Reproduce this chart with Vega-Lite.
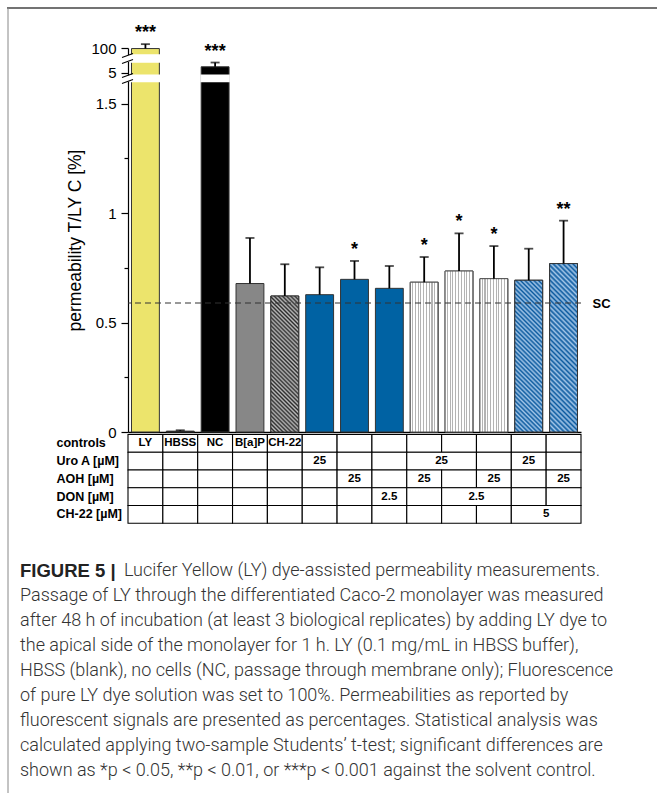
{
 "$schema": "https://vega.github.io/schema/vega-lite/v6.json",
 "width": 453, "height": 384,
 "autosize": {"type": "none"},
 "padding": {"left": 128, "top": 48, "right": 76, "bottom": 361},
 "background": "white",
 "config": {"view": {"stroke": null}, "axis": {"grid": false}, "font": "Liberation Sans"},
 "datasets": {
  "bars": [
   {"id":"LY","v":99.2,"e":105.5,"sig":"***"},
   {"id":"HBSS","v":0.004,"e":0.008,"sig":""},
   {"id":"NC","v":6.1,"e":6.9,"sig":"***"},
   {"id":"BaP","v":0.678,"e":0.886,"sig":""},
   {"id":"CH22","v":0.621,"e":0.766,"sig":""},
   {"id":"U","v":0.627,"e":0.752,"sig":""},
   {"id":"A","v":0.697,"e":0.781,"sig":"*"},
   {"id":"D","v":0.656,"e":0.758,"sig":""},
   {"id":"UA","v":0.684,"e":0.799,"sig":"*"},
   {"id":"UD","v":0.735,"e":0.907,"sig":"*"},
   {"id":"AD","v":0.700,"e":0.849,"sig":"*"},
   {"id":"UC","v":0.693,"e":0.837,"sig":""},
   {"id":"AC","v":0.769,"e":0.965,"sig":"**"}
  ],
  "gaps": [
   {"id":"LY","lo":1.6,"hi":4.5},
   {"id":"LY","lo":7,"hi":90},
   {"id":"NC","lo":1.6,"hi":4.5}
  ],
  "slashes": [
   {"ya":1.591,"yb":2.567},
   {"ya":3.487,"yb":4.838},
   {"ya":6.718,"yb":36.64},
   {"ya":60.36,"yb":92.14}
  ],
  "cells": [
   {"r":"controls","a":0,"b":1,"t":"LY"},{"r":"controls","a":1,"b":2,"t":"HBSS"},{"r":"controls","a":2,"b":3,"t":"NC"},{"r":"controls","a":3,"b":4,"t":"B[a]P"},{"r":"controls","a":4,"b":5,"t":"CH-22"},
   {"r":"controls","a":5,"b":6,"t":""},{"r":"controls","a":6,"b":7,"t":""},{"r":"controls","a":7,"b":8,"t":""},{"r":"controls","a":8,"b":9,"t":""},{"r":"controls","a":9,"b":10,"t":""},{"r":"controls","a":10,"b":11,"t":""},{"r":"controls","a":11,"b":12,"t":""},{"r":"controls","a":12,"b":13,"t":""},
   {"r":"Uro A [µM]","a":0,"b":1,"t":""},{"r":"Uro A [µM]","a":1,"b":2,"t":""},{"r":"Uro A [µM]","a":2,"b":3,"t":""},{"r":"Uro A [µM]","a":3,"b":4,"t":""},{"r":"Uro A [µM]","a":4,"b":5,"t":""},
   {"r":"Uro A [µM]","a":5,"b":6,"t":"25"},{"r":"Uro A [µM]","a":6,"b":7,"t":""},{"r":"Uro A [µM]","a":7,"b":8,"t":""},{"r":"Uro A [µM]","a":8,"b":10,"t":"25"},{"r":"Uro A [µM]","a":10,"b":11,"t":""},{"r":"Uro A [µM]","a":11,"b":12,"t":"25"},{"r":"Uro A [µM]","a":12,"b":13,"t":""},
   {"r":"AOH [µM]","a":0,"b":1,"t":""},{"r":"AOH [µM]","a":1,"b":2,"t":""},{"r":"AOH [µM]","a":2,"b":3,"t":""},{"r":"AOH [µM]","a":3,"b":4,"t":""},{"r":"AOH [µM]","a":4,"b":5,"t":""},{"r":"AOH [µM]","a":5,"b":6,"t":""},
   {"r":"AOH [µM]","a":6,"b":7,"t":"25"},{"r":"AOH [µM]","a":7,"b":8,"t":""},{"r":"AOH [µM]","a":8,"b":9,"t":"25"},{"r":"AOH [µM]","a":9,"b":10,"t":""},{"r":"AOH [µM]","a":10,"b":11,"t":"25"},{"r":"AOH [µM]","a":11,"b":12,"t":""},{"r":"AOH [µM]","a":12,"b":13,"t":"25"},
   {"r":"DON [µM]","a":0,"b":1,"t":""},{"r":"DON [µM]","a":1,"b":2,"t":""},{"r":"DON [µM]","a":2,"b":3,"t":""},{"r":"DON [µM]","a":3,"b":4,"t":""},{"r":"DON [µM]","a":4,"b":5,"t":""},{"r":"DON [µM]","a":5,"b":6,"t":""},{"r":"DON [µM]","a":6,"b":7,"t":""},
   {"r":"DON [µM]","a":7,"b":8,"t":"2.5"},{"r":"DON [µM]","a":8,"b":9,"t":""},{"r":"DON [µM]","a":9,"b":11,"t":"2.5"},{"r":"DON [µM]","a":11,"b":12,"t":""},{"r":"DON [µM]","a":12,"b":13,"t":""},
   {"r":"CH-22 [µM]","a":0,"b":1,"t":""},{"r":"CH-22 [µM]","a":1,"b":2,"t":""},{"r":"CH-22 [µM]","a":2,"b":3,"t":""},{"r":"CH-22 [µM]","a":3,"b":4,"t":""},{"r":"CH-22 [µM]","a":4,"b":5,"t":""},{"r":"CH-22 [µM]","a":5,"b":6,"t":""},
   {"r":"CH-22 [µM]","a":6,"b":7,"t":""},{"r":"CH-22 [µM]","a":7,"b":8,"t":""},{"r":"CH-22 [µM]","a":8,"b":9,"t":""},{"r":"CH-22 [µM]","a":9,"b":10,"t":""},{"r":"CH-22 [µM]","a":10,"b":11,"t":""},{"r":"CH-22 [µM]","a":11,"b":13,"t":"5"}
  ],
  "caption": [
   {"line":1,"text":"Lucifer Yellow (LY) dye-assisted permeability measurements."},
   {"line":2,"text":"Passage of LY through the differentiated Caco-2 monolayer was measured"},
   {"line":3,"text":"after 48 h of incubation (at least 3 biological replicates) by adding LY dye to"},
   {"line":4,"text":"the apical side of the monolayer for 1 h. LY (0.1 mg/mL in HBSS buffer),"},
   {"line":5,"text":"HBSS (blank), no cells (NC, passage through membrane only); Fluorescence"},
   {"line":6,"text":"of pure LY dye solution was set to 100%. Permeabilities as reported by"},
   {"line":7,"text":"fluorescent signals are presented as percentages. Statistical analysis was"},
   {"line":8,"text":"calculated applying two-sample Students’ t-test; significant differences are"},
   {"line":9,"text":"shown as *p < 0.05, **p < 0.01, or ***p < 0.001 against the solvent control."}
  ]
 },
 "layer": [
  {
   "data": {"name": "bars"},
   "resolve": {"axis": {"y": "independent"}},
   "layer": [
    {
     "mark": {"type": "bar", "stroke": "#333", "strokeWidth": 1},
     "encoding": {
      "x": {"field": "id", "type": "nominal", "sort": null, "scale": {"domain": ["LY","HBSS","NC","BaP","CH22","U","A","D","UA","UD","AD","UC","AC"], "paddingInner": 0.2, "paddingOuter": 0.1}, "axis": {"labels": false, "ticks": false, "title": null, "domainColor": "#000", "domainWidth": 1.5}},
      "y": {"field": "v", "type": "quantitative", "stack": null, "scale": {"domain": [0,1.6,4.5,7,90,100], "range": [384,33.6,27.3,14,7,0], "nice": false, "zero": false},
       "axis": {"orient": "left", "values": [0,0.25,0.5,0.75,1,1.25,1.5,5,100],
        "labelExpr": "indexof([0.25,0.75,1.25], datum.value) >= 0 ? '' : format(datum.value, '~g')",
        "tickSize": {"condition": {"test": "indexof([0.25,0.75,1.25], datum.value) >= 0", "value": 4}, "value": 7},
        "title": "permeability T/LY C [%]", "labelFont": "Liberation Sans", "labelFontSize": 15, "labelColor": "#000", "labelPadding": 5,
        "tickColor": "#000", "tickWidth": 1.2, "domainColor": "#000", "domainWidth": 1.2, "labelOverlap": false,
        "titleFont": "Liberation Sans", "titleFontSize": 17.5, "titleFontWeight": "normal", "titleColor": "#000", "titlePadding": 6, "grid": false}},
      "color": {"field": "id", "type": "nominal", "legend": null, "scale": {"domain": ["LY","HBSS","NC","BaP","CH22","U","A","D","UA","UD","AD","UC","AC"], "range": ["#ece46c","#000000","#000000","#878787","#6a6a6a","#0062a3","#0062a3","#0062a3","#e4e4e4","#e4e4e4","#e4e4e4","#4a86c2","#4a86c2"]}}
     }
    },
    {
     "transform": [{"filter": "indexof(['UA','UD','AD'], datum.id) >= 0"}],
     "mark": {"type": "bar", "stroke": "#555", "strokeWidth": 1, "fill": {"gradient": "linear", "x1": 0, "y1": 0, "x2": 1, "y2": 0, "stops": [
      {"offset":0,"color":"#fff"},{"offset":0.062,"color":"#fff"},{"offset":0.062,"color":"#b4b4b4"},{"offset":0.1,"color":"#b4b4b4"},
      {"offset":0.1,"color":"#fff"},{"offset":0.162,"color":"#fff"},{"offset":0.162,"color":"#b4b4b4"},{"offset":0.2,"color":"#b4b4b4"},
      {"offset":0.2,"color":"#fff"},{"offset":0.262,"color":"#fff"},{"offset":0.262,"color":"#b4b4b4"},{"offset":0.3,"color":"#b4b4b4"},
      {"offset":0.3,"color":"#fff"},{"offset":0.362,"color":"#fff"},{"offset":0.362,"color":"#b4b4b4"},{"offset":0.4,"color":"#b4b4b4"},
      {"offset":0.4,"color":"#fff"},{"offset":0.462,"color":"#fff"},{"offset":0.462,"color":"#b4b4b4"},{"offset":0.5,"color":"#b4b4b4"},
      {"offset":0.5,"color":"#fff"},{"offset":0.562,"color":"#fff"},{"offset":0.562,"color":"#b4b4b4"},{"offset":0.6,"color":"#b4b4b4"},
      {"offset":0.6,"color":"#fff"},{"offset":0.662,"color":"#fff"},{"offset":0.662,"color":"#b4b4b4"},{"offset":0.7,"color":"#b4b4b4"},
      {"offset":0.7,"color":"#fff"},{"offset":0.762,"color":"#fff"},{"offset":0.762,"color":"#b4b4b4"},{"offset":0.8,"color":"#b4b4b4"},
      {"offset":0.8,"color":"#fff"},{"offset":0.862,"color":"#fff"},{"offset":0.862,"color":"#b4b4b4"},{"offset":0.9,"color":"#b4b4b4"},
      {"offset":0.9,"color":"#fff"},{"offset":0.962,"color":"#fff"},{"offset":0.962,"color":"#b4b4b4"},{"offset":1,"color":"#b4b4b4"}]}},
     "encoding": {
      "x": {"field": "id", "type": "nominal", "sort": null, "scale": {"domain": ["LY","HBSS","NC","BaP","CH22","U","A","D","UA","UD","AD","UC","AC"], "paddingInner": 0.2, "paddingOuter": 0.1}},
      "y": {"field": "v", "type": "quantitative", "stack": null, "scale": {"domain": [0,1.6,4.5,7,90,100], "range": [384,33.6,27.3,14,7,0], "nice": false, "zero": false}, "axis": null}
     }
    },
    {
     "transform": [{"filter": "datum.id == 'CH22'"}],
     "mark": {"type": "bar", "stroke": "#333", "strokeWidth": 1, "fill": {"gradient": "linear", "x1": 0, "y1": 1, "x2": 0.2371, "y2": -0.1564, "stops": [
      {"offset":0,"color":"#2b2b2b"},{"offset":0.0125,"color":"#bdbdbd"},{"offset":0.025,"color":"#2b2b2b"},{"offset":0.0375,"color":"#bdbdbd"},{"offset":0.05,"color":"#2b2b2b"},{"offset":0.0625,"color":"#bdbdbd"},{"offset":0.075,"color":"#2b2b2b"},{"offset":0.0875,"color":"#bdbdbd"},
      {"offset":0.1,"color":"#2b2b2b"},{"offset":0.1125,"color":"#bdbdbd"},{"offset":0.125,"color":"#2b2b2b"},{"offset":0.1375,"color":"#bdbdbd"},{"offset":0.15,"color":"#2b2b2b"},{"offset":0.1625,"color":"#bdbdbd"},{"offset":0.175,"color":"#2b2b2b"},{"offset":0.1875,"color":"#bdbdbd"},
      {"offset":0.2,"color":"#2b2b2b"},{"offset":0.2125,"color":"#bdbdbd"},{"offset":0.225,"color":"#2b2b2b"},{"offset":0.2375,"color":"#bdbdbd"},{"offset":0.25,"color":"#2b2b2b"},{"offset":0.2625,"color":"#bdbdbd"},{"offset":0.275,"color":"#2b2b2b"},{"offset":0.2875,"color":"#bdbdbd"},
      {"offset":0.3,"color":"#2b2b2b"},{"offset":0.3125,"color":"#bdbdbd"},{"offset":0.325,"color":"#2b2b2b"},{"offset":0.3375,"color":"#bdbdbd"},{"offset":0.35,"color":"#2b2b2b"},{"offset":0.3625,"color":"#bdbdbd"},{"offset":0.375,"color":"#2b2b2b"},{"offset":0.3875,"color":"#bdbdbd"},
      {"offset":0.4,"color":"#2b2b2b"},{"offset":0.4125,"color":"#bdbdbd"},{"offset":0.425,"color":"#2b2b2b"},{"offset":0.4375,"color":"#bdbdbd"},{"offset":0.45,"color":"#2b2b2b"},{"offset":0.4625,"color":"#bdbdbd"},{"offset":0.475,"color":"#2b2b2b"},{"offset":0.4875,"color":"#bdbdbd"},
      {"offset":0.5,"color":"#2b2b2b"},{"offset":0.5125,"color":"#bdbdbd"},{"offset":0.525,"color":"#2b2b2b"},{"offset":0.5375,"color":"#bdbdbd"},{"offset":0.55,"color":"#2b2b2b"},{"offset":0.5625,"color":"#bdbdbd"},{"offset":0.575,"color":"#2b2b2b"},{"offset":0.5875,"color":"#bdbdbd"},
      {"offset":0.6,"color":"#2b2b2b"},{"offset":0.6125,"color":"#bdbdbd"},{"offset":0.625,"color":"#2b2b2b"},{"offset":0.6375,"color":"#bdbdbd"},{"offset":0.65,"color":"#2b2b2b"},{"offset":0.6625,"color":"#bdbdbd"},{"offset":0.675,"color":"#2b2b2b"},{"offset":0.6875,"color":"#bdbdbd"},
      {"offset":0.7,"color":"#2b2b2b"},{"offset":0.7125,"color":"#bdbdbd"},{"offset":0.725,"color":"#2b2b2b"},{"offset":0.7375,"color":"#bdbdbd"},{"offset":0.75,"color":"#2b2b2b"},{"offset":0.7625,"color":"#bdbdbd"},{"offset":0.775,"color":"#2b2b2b"},{"offset":0.7875,"color":"#bdbdbd"},
      {"offset":0.8,"color":"#2b2b2b"},{"offset":0.8125,"color":"#bdbdbd"},{"offset":0.825,"color":"#2b2b2b"},{"offset":0.8375,"color":"#bdbdbd"},{"offset":0.85,"color":"#2b2b2b"},{"offset":0.8625,"color":"#bdbdbd"},{"offset":0.875,"color":"#2b2b2b"},{"offset":0.8875,"color":"#bdbdbd"},
      {"offset":0.9,"color":"#2b2b2b"},{"offset":0.9125,"color":"#bdbdbd"},{"offset":0.925,"color":"#2b2b2b"},{"offset":0.9375,"color":"#bdbdbd"},{"offset":0.95,"color":"#2b2b2b"},{"offset":0.9625,"color":"#bdbdbd"},{"offset":0.975,"color":"#2b2b2b"},{"offset":0.9875,"color":"#bdbdbd"},
      {"offset":1,"color":"#2b2b2b"}]}},
     "encoding": {
      "x": {"field": "id", "type": "nominal", "sort": null, "scale": {"domain": ["LY","HBSS","NC","BaP","CH22","U","A","D","UA","UD","AD","UC","AC"], "paddingInner": 0.2, "paddingOuter": 0.1}},
      "y": {"field": "v", "type": "quantitative", "stack": null, "scale": {"domain": [0,1.6,4.5,7,90,100], "range": [384,33.6,27.3,14,7,0], "nice": false, "zero": false}, "axis": null}
     }
    },
    {
     "transform": [{"filter": "datum.id == 'UC'"}],
     "mark": {"type": "bar", "stroke": "#333", "strokeWidth": 1, "fill": {"gradient": "linear", "x1": 0, "y1": 1, "x2": 0.2103, "y2": -0.1452, "stops": [
      {"offset":0,"color":"#0b5a9f"},{"offset":0.0125,"color":"#a3c6e8"},{"offset":0.025,"color":"#0b5a9f"},{"offset":0.0375,"color":"#a3c6e8"},{"offset":0.05,"color":"#0b5a9f"},{"offset":0.0625,"color":"#a3c6e8"},{"offset":0.075,"color":"#0b5a9f"},{"offset":0.0875,"color":"#a3c6e8"},
      {"offset":0.1,"color":"#0b5a9f"},{"offset":0.1125,"color":"#a3c6e8"},{"offset":0.125,"color":"#0b5a9f"},{"offset":0.1375,"color":"#a3c6e8"},{"offset":0.15,"color":"#0b5a9f"},{"offset":0.1625,"color":"#a3c6e8"},{"offset":0.175,"color":"#0b5a9f"},{"offset":0.1875,"color":"#a3c6e8"},
      {"offset":0.2,"color":"#0b5a9f"},{"offset":0.2125,"color":"#a3c6e8"},{"offset":0.225,"color":"#0b5a9f"},{"offset":0.2375,"color":"#a3c6e8"},{"offset":0.25,"color":"#0b5a9f"},{"offset":0.2625,"color":"#a3c6e8"},{"offset":0.275,"color":"#0b5a9f"},{"offset":0.2875,"color":"#a3c6e8"},
      {"offset":0.3,"color":"#0b5a9f"},{"offset":0.3125,"color":"#a3c6e8"},{"offset":0.325,"color":"#0b5a9f"},{"offset":0.3375,"color":"#a3c6e8"},{"offset":0.35,"color":"#0b5a9f"},{"offset":0.3625,"color":"#a3c6e8"},{"offset":0.375,"color":"#0b5a9f"},{"offset":0.3875,"color":"#a3c6e8"},
      {"offset":0.4,"color":"#0b5a9f"},{"offset":0.4125,"color":"#a3c6e8"},{"offset":0.425,"color":"#0b5a9f"},{"offset":0.4375,"color":"#a3c6e8"},{"offset":0.45,"color":"#0b5a9f"},{"offset":0.4625,"color":"#a3c6e8"},{"offset":0.475,"color":"#0b5a9f"},{"offset":0.4875,"color":"#a3c6e8"},
      {"offset":0.5,"color":"#0b5a9f"},{"offset":0.5125,"color":"#a3c6e8"},{"offset":0.525,"color":"#0b5a9f"},{"offset":0.5375,"color":"#a3c6e8"},{"offset":0.55,"color":"#0b5a9f"},{"offset":0.5625,"color":"#a3c6e8"},{"offset":0.575,"color":"#0b5a9f"},{"offset":0.5875,"color":"#a3c6e8"},
      {"offset":0.6,"color":"#0b5a9f"},{"offset":0.6125,"color":"#a3c6e8"},{"offset":0.625,"color":"#0b5a9f"},{"offset":0.6375,"color":"#a3c6e8"},{"offset":0.65,"color":"#0b5a9f"},{"offset":0.6625,"color":"#a3c6e8"},{"offset":0.675,"color":"#0b5a9f"},{"offset":0.6875,"color":"#a3c6e8"},
      {"offset":0.7,"color":"#0b5a9f"},{"offset":0.7125,"color":"#a3c6e8"},{"offset":0.725,"color":"#0b5a9f"},{"offset":0.7375,"color":"#a3c6e8"},{"offset":0.75,"color":"#0b5a9f"},{"offset":0.7625,"color":"#a3c6e8"},{"offset":0.775,"color":"#0b5a9f"},{"offset":0.7875,"color":"#a3c6e8"},
      {"offset":0.8,"color":"#0b5a9f"},{"offset":0.8125,"color":"#a3c6e8"},{"offset":0.825,"color":"#0b5a9f"},{"offset":0.8375,"color":"#a3c6e8"},{"offset":0.85,"color":"#0b5a9f"},{"offset":0.8625,"color":"#a3c6e8"},{"offset":0.875,"color":"#0b5a9f"},{"offset":0.8875,"color":"#a3c6e8"},
      {"offset":0.9,"color":"#0b5a9f"},{"offset":0.9125,"color":"#a3c6e8"},{"offset":0.925,"color":"#0b5a9f"},{"offset":0.9375,"color":"#a3c6e8"},{"offset":0.95,"color":"#0b5a9f"},{"offset":0.9625,"color":"#a3c6e8"},{"offset":0.975,"color":"#0b5a9f"},{"offset":0.9875,"color":"#a3c6e8"},
      {"offset":1,"color":"#0b5a9f"}]}},
     "encoding": {
      "x": {"field": "id", "type": "nominal", "sort": null, "scale": {"domain": ["LY","HBSS","NC","BaP","CH22","U","A","D","UA","UD","AD","UC","AC"], "paddingInner": 0.2, "paddingOuter": 0.1}},
      "y": {"field": "v", "type": "quantitative", "stack": null, "scale": {"domain": [0,1.6,4.5,7,90,100], "range": [384,33.6,27.3,14,7,0], "nice": false, "zero": false}, "axis": null}
     }
    },
    {
     "transform": [{"filter": "datum.id == 'AC'"}],
     "mark": {"type": "bar", "stroke": "#333", "strokeWidth": 1, "fill": {"gradient": "linear", "x1": 0, "y1": 1, "x2": 0.1878, "y2": -0.1345, "stops": [
      {"offset":0,"color":"#0b5a9f"},{"offset":0.0125,"color":"#a3c6e8"},{"offset":0.025,"color":"#0b5a9f"},{"offset":0.0375,"color":"#a3c6e8"},{"offset":0.05,"color":"#0b5a9f"},{"offset":0.0625,"color":"#a3c6e8"},{"offset":0.075,"color":"#0b5a9f"},{"offset":0.0875,"color":"#a3c6e8"},
      {"offset":0.1,"color":"#0b5a9f"},{"offset":0.1125,"color":"#a3c6e8"},{"offset":0.125,"color":"#0b5a9f"},{"offset":0.1375,"color":"#a3c6e8"},{"offset":0.15,"color":"#0b5a9f"},{"offset":0.1625,"color":"#a3c6e8"},{"offset":0.175,"color":"#0b5a9f"},{"offset":0.1875,"color":"#a3c6e8"},
      {"offset":0.2,"color":"#0b5a9f"},{"offset":0.2125,"color":"#a3c6e8"},{"offset":0.225,"color":"#0b5a9f"},{"offset":0.2375,"color":"#a3c6e8"},{"offset":0.25,"color":"#0b5a9f"},{"offset":0.2625,"color":"#a3c6e8"},{"offset":0.275,"color":"#0b5a9f"},{"offset":0.2875,"color":"#a3c6e8"},
      {"offset":0.3,"color":"#0b5a9f"},{"offset":0.3125,"color":"#a3c6e8"},{"offset":0.325,"color":"#0b5a9f"},{"offset":0.3375,"color":"#a3c6e8"},{"offset":0.35,"color":"#0b5a9f"},{"offset":0.3625,"color":"#a3c6e8"},{"offset":0.375,"color":"#0b5a9f"},{"offset":0.3875,"color":"#a3c6e8"},
      {"offset":0.4,"color":"#0b5a9f"},{"offset":0.4125,"color":"#a3c6e8"},{"offset":0.425,"color":"#0b5a9f"},{"offset":0.4375,"color":"#a3c6e8"},{"offset":0.45,"color":"#0b5a9f"},{"offset":0.4625,"color":"#a3c6e8"},{"offset":0.475,"color":"#0b5a9f"},{"offset":0.4875,"color":"#a3c6e8"},
      {"offset":0.5,"color":"#0b5a9f"},{"offset":0.5125,"color":"#a3c6e8"},{"offset":0.525,"color":"#0b5a9f"},{"offset":0.5375,"color":"#a3c6e8"},{"offset":0.55,"color":"#0b5a9f"},{"offset":0.5625,"color":"#a3c6e8"},{"offset":0.575,"color":"#0b5a9f"},{"offset":0.5875,"color":"#a3c6e8"},
      {"offset":0.6,"color":"#0b5a9f"},{"offset":0.6125,"color":"#a3c6e8"},{"offset":0.625,"color":"#0b5a9f"},{"offset":0.6375,"color":"#a3c6e8"},{"offset":0.65,"color":"#0b5a9f"},{"offset":0.6625,"color":"#a3c6e8"},{"offset":0.675,"color":"#0b5a9f"},{"offset":0.6875,"color":"#a3c6e8"},
      {"offset":0.7,"color":"#0b5a9f"},{"offset":0.7125,"color":"#a3c6e8"},{"offset":0.725,"color":"#0b5a9f"},{"offset":0.7375,"color":"#a3c6e8"},{"offset":0.75,"color":"#0b5a9f"},{"offset":0.7625,"color":"#a3c6e8"},{"offset":0.775,"color":"#0b5a9f"},{"offset":0.7875,"color":"#a3c6e8"},
      {"offset":0.8,"color":"#0b5a9f"},{"offset":0.8125,"color":"#a3c6e8"},{"offset":0.825,"color":"#0b5a9f"},{"offset":0.8375,"color":"#a3c6e8"},{"offset":0.85,"color":"#0b5a9f"},{"offset":0.8625,"color":"#a3c6e8"},{"offset":0.875,"color":"#0b5a9f"},{"offset":0.8875,"color":"#a3c6e8"},
      {"offset":0.9,"color":"#0b5a9f"},{"offset":0.9125,"color":"#a3c6e8"},{"offset":0.925,"color":"#0b5a9f"},{"offset":0.9375,"color":"#a3c6e8"},{"offset":0.95,"color":"#0b5a9f"},{"offset":0.9625,"color":"#a3c6e8"},{"offset":0.975,"color":"#0b5a9f"},{"offset":0.9875,"color":"#a3c6e8"},
      {"offset":1,"color":"#0b5a9f"}]}},
     "encoding": {
      "x": {"field": "id", "type": "nominal", "sort": null, "scale": {"domain": ["LY","HBSS","NC","BaP","CH22","U","A","D","UA","UD","AD","UC","AC"], "paddingInner": 0.2, "paddingOuter": 0.1}},
      "y": {"field": "v", "type": "quantitative", "stack": null, "scale": {"domain": [0,1.6,4.5,7,90,100], "range": [384,33.6,27.3,14,7,0], "nice": false, "zero": false}, "axis": null}
     }
    },
    {
     "data": {"name": "gaps"},
     "mark": {"type": "bar", "fill": "white", "stroke": "white", "strokeWidth": 1.5},
     "encoding": {
      "x": {"field": "id", "type": "nominal", "sort": null, "scale": {"domain": ["LY","HBSS","NC","BaP","CH22","U","A","D","UA","UD","AD","UC","AC"], "paddingInner": 0.2, "paddingOuter": 0.1}},
      "y": {"field": "lo", "type": "quantitative", "stack": null, "scale": {"domain": [0,1.6,4.5,7,90,100], "range": [384,33.6,27.3,14,7,0], "nice": false, "zero": false}, "axis": null},
      "y2": {"field": "hi"}
     }
    },
    {
     "data": {"name": "gaps"},
     "transform": [{"filter": "datum.id == 'LY'"}],
     "mark": {"type": "rect", "fill": "white"},
     "encoding": {
      "x": {"value": -3}, "x2": {"value": 3},
      "y": {"field": "lo", "type": "quantitative", "scale": {"domain": [0,1.6,4.5,7,90,100], "range": [384,33.6,27.3,14,7,0], "nice": false, "zero": false}, "axis": null},
      "y2": {"field": "hi"}
     }
    },
    {
     "data": {"name": "slashes"},
     "mark": {"type": "rule", "color": "#000", "strokeWidth": 1.1},
     "encoding": {
      "x": {"value": -6}, "x2": {"value": 5},
      "y": {"field": "ya", "type": "quantitative", "scale": {"domain": [0,1.6,4.5,7,90,100], "range": [384,33.6,27.3,14,7,0], "nice": false, "zero": false}, "axis": null},
      "y2": {"field": "yb"}
     }
    },
    {
     "data": {"values": [{}]},
     "mark": {"type": "rule", "color": "#333", "strokeWidth": 1.2, "strokeDash": [6, 4]},
     "encoding": {
      "y": {"datum": 0.589, "type": "quantitative", "scale": {"domain": [0,1.6,4.5,7,90,100], "range": [384,33.6,27.3,14,7,0], "nice": false, "zero": false},
       "axis": {"orient": "right", "values": [0.589], "labelExpr": "'SC'", "ticks": false, "domain": false, "title": null, "grid": false, "labelFont": "Liberation Sans", "labelFontWeight": "bold", "labelFontSize": 13, "labelColor": "#000", "labelPadding": 11}}
     }
    },
    {
     "mark": {"type": "rule", "color": "#000", "strokeWidth": 1.8},
     "encoding": {
      "x": {"field": "id", "type": "nominal", "sort": null, "scale": {"domain": ["LY","HBSS","NC","BaP","CH22","U","A","D","UA","UD","AD","UC","AC"], "paddingInner": 0.2, "paddingOuter": 0.1}},
      "y": {"field": "v", "type": "quantitative", "scale": {"domain": [0,1.6,4.5,7,90,100], "range": [384,33.6,27.3,14,7,0], "nice": false, "zero": false}, "axis": null},
      "y2": {"field": "e"}
     }
    },
    {
     "mark": {"type": "tick", "orient": "horizontal", "color": "#000", "size": 9, "thickness": 1.8},
     "encoding": {
      "x": {"field": "id", "type": "nominal", "sort": null, "scale": {"domain": ["LY","HBSS","NC","BaP","CH22","U","A","D","UA","UD","AD","UC","AC"], "paddingInner": 0.2, "paddingOuter": 0.1}},
      "y": {"field": "e", "type": "quantitative", "scale": {"domain": [0,1.6,4.5,7,90,100], "range": [384,33.6,27.3,14,7,0], "nice": false, "zero": false}, "axis": null}
     }
    },
    {
     "transform": [{"filter": "datum.sig != ''"}],
     "mark": {"type": "text", "font": "Liberation Sans", "fontWeight": "bold", "fontSize": 18, "color": "#000", "baseline": "alphabetic", "dy": -6},
     "encoding": {
      "x": {"field": "id", "type": "nominal", "sort": null, "scale": {"domain": ["LY","HBSS","NC","BaP","CH22","U","A","D","UA","UD","AD","UC","AC"], "paddingInner": 0.2, "paddingOuter": 0.1}},
      "y": {"field": "e", "type": "quantitative", "scale": {"domain": [0,1.6,4.5,7,90,100], "range": [384,33.6,27.3,14,7,0], "nice": false, "zero": false}, "axis": null},
      "text": {"field": "sig"}
     }
    }
   ]
  },
  {
   "data": {"name": "cells"},
   "layer": [
    {
     "mark": {"type": "rect", "fill": "white", "stroke": "#000", "strokeWidth": 1.1},
     "encoding": {
      "x": {"field": "a", "type": "quantitative", "scale": {"domain": [0, 13], "range": [0, 453], "nice": false, "zero": false}, "axis": null},
      "x2": {"field": "b"},
      "y": {"field": "r", "type": "nominal", "sort": null, "scale": {"domain": ["controls","Uro A [µM]","AOH [µM]","DON [µM]","CH-22 [µM]"], "range": [386.5, 475.3], "paddingInner": 0, "paddingOuter": 0},
       "axis": {"orient": "left", "title": null, "ticks": false, "tickSize": 0, "domain": false, "grid": false, "labelAlign": "left", "labelBaseline": "middle", "labelPadding": 72, "labelFont": "Liberation Sans", "labelFontSize": 12.5, "labelFontWeight": "bold", "labelColor": "#000"}}
     }
    },
    {
     "transform": [{"filter": "datum.t != ''"}, {"calculate": "(datum.a + datum.b) / 2", "as": "cx"}],
     "mark": {"type": "text", "font": "Liberation Sans", "fontWeight": "bold", "fontSize": 11.5, "color": "#000", "baseline": "middle"},
     "encoding": {
      "x": {"field": "cx", "type": "quantitative", "scale": {"domain": [0, 13], "range": [0, 453], "nice": false, "zero": false}, "axis": null},
      "y": {"field": "r", "type": "nominal", "sort": null, "scale": {"domain": ["controls","Uro A [µM]","AOH [µM]","DON [µM]","CH-22 [µM]"], "range": [386.5, 475.3], "paddingInner": 0, "paddingOuter": 0},
       "axis": {"orient": "left", "title": null, "ticks": false, "tickSize": 0, "domain": false, "grid": false, "labelAlign": "left", "labelBaseline": "middle", "labelPadding": 72, "labelFont": "Liberation Sans", "labelFontSize": 12.5, "labelFontWeight": "bold", "labelColor": "#000"}},
      "text": {"field": "t"}
     }
    }
   ]
  },
  {
   "data": {"name": "caption"},
   "layer": [
    {
     "data": {"values": [{"line": 1, "text": "FIGURE 5 |"}]},
     "mark": {"type": "text", "font": "Liberation Sans", "fontWeight": "bold", "fontSize": 18.5, "color": "#222", "align": "left", "baseline": "middle"},
     "encoding": {
      "x": {"value": -108},
      "y": {"field": "line", "type": "quantitative", "scale": {"domain": [1, 9], "range": [523, 723], "nice": false, "zero": false}, "axis": null},
      "text": {"field": "text"}
     }
    },
    {
     "transform": [{"filter": "datum.line == 1"}],
     "mark": {"type": "text", "font": "Roboto", "fontWeight": 300, "fontSize": 18, "color": "#333", "align": "left", "baseline": "middle"},
     "encoding": {
      "x": {"value": -4},
      "y": {"field": "line", "type": "quantitative", "scale": {"domain": [1, 9], "range": [523, 723], "nice": false, "zero": false}, "axis": null},
      "text": {"field": "text"}
     }
    },
    {
     "transform": [{"filter": "datum.line > 1"}],
     "mark": {"type": "text", "font": "Roboto", "fontWeight": 300, "fontSize": 18, "color": "#333", "align": "left", "baseline": "middle"},
     "encoding": {
      "x": {"value": -108},
      "y": {"field": "line", "type": "quantitative", "scale": {"domain": [1, 9], "range": [523, 723], "nice": false, "zero": false}, "axis": null},
      "text": {"field": "text"}
     }
    },
    {
     "data": {"values": [{}]},
     "mark": {"type": "rule", "color": "#444", "strokeWidth": 1.5},
     "encoding": {"x": {"value": -121}, "x2": {"value": 529}, "y": {"value": -40}}
    },
    {
     "data": {"values": [{}]},
     "mark": {"type": "rule", "color": "#888", "strokeWidth": 1},
     "encoding": {"x": {"value": -120}, "y": {"value": -40}, "y2": {"value": 745}}
    }
   ]
  }
 ],
 "resolve": {"scale": {"x": "independent", "y": "independent"}, "axis": {"x": "independent", "y": "independent"}}
}
